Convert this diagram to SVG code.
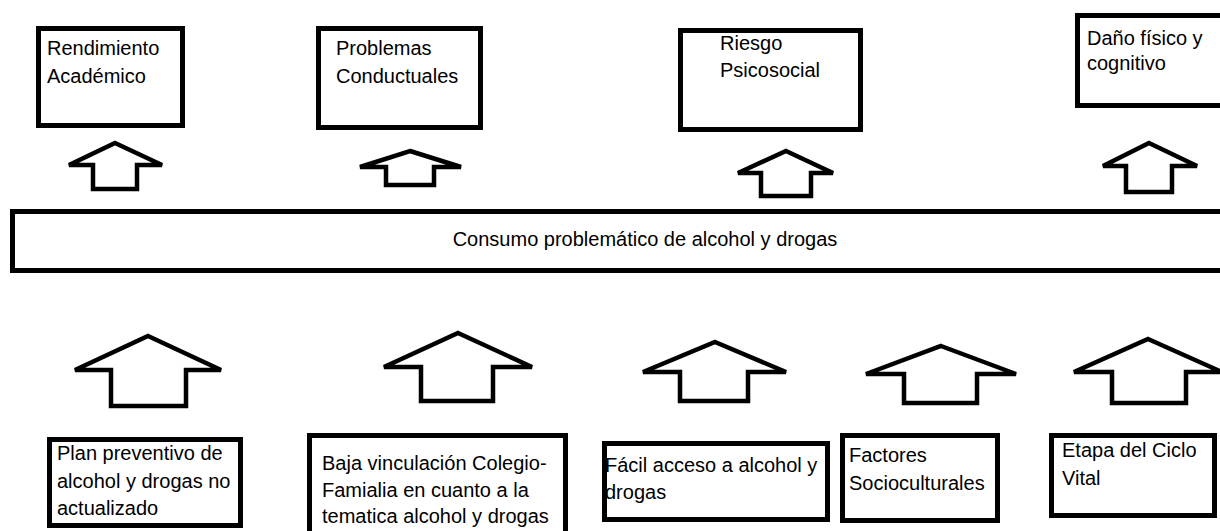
<svg xmlns="http://www.w3.org/2000/svg" width="1220" height="531" viewBox="0 0 1220 531">
<style>
.box{fill:#fff;stroke:#000;stroke-width:5}
.arr{fill:#fff;stroke:#000;stroke-width:4.5;stroke-linejoin:miter}
text{font-family:"Liberation Sans",Arial,sans-serif;font-size:20px;fill:#000}
</style>
<rect width="1220" height="531" fill="#fff"/>
<g id="top-rendimiento"><rect class="box" x="38.5" y="28.5" width="144" height="97"/><text x="47" y="55">Rendimiento</text><text x="47" y="83">Académico</text></g>
<g id="top-problemas"><rect class="box" x="318.5" y="28.5" width="162" height="99"/><text x="336" y="55">Problemas</text><text x="336" y="83">Conductuales</text></g>
<g id="top-riesgo"><rect class="box" x="680.5" y="30.5" width="180" height="99"/><text x="720" y="50">Riesgo</text><text x="720" y="77">Psicosocial</text></g>
<g id="top-dano"><rect class="box" x="1077.5" y="15.5" width="150" height="90"/><text x="1087" y="45">Daño físico y</text><text x="1087" y="70">cognitivo</text></g>
<g id="center"><rect class="box" x="12.5" y="211.5" width="1215" height="59"/><text x="645" y="246" text-anchor="middle">Consumo problemático de alcohol y drogas</text></g>
<g id="connectors">
<polygon class="arr" points="115,143 162,165 137,165 137,189 93,189 93,165 69,165"/>
<polygon class="arr" points="410,151 461,167 434,167 434,185 386,185 386,167 360,167"/>
<polygon class="arr" points="786,151 833,173 811,173 811,196 761,196 761,173 738,173"/>
<polygon class="arr" points="1149,143 1197,166 1172,166 1172,192 1126,192 1126,166 1103,166"/>
<polygon class="arr" points="148,336 221,370 186,370 186,406 111,406 111,370 75,370"/>
<polygon class="arr" points="458,333 532,367 493,367 493,401 421,401 421,367 384,367"/>
<polygon class="arr" points="715,342 786,372 748,372 748,401 680,401 680,372 643,372"/>
<polygon class="arr" points="941,346 1016,374 977,374 977,403 904,403 904,374 866,374"/>
<polygon class="arr" points="1148,339 1222,372 1186,372 1186,403 1112,403 1112,372 1074,372"/>
</g>
<g id="bottom-plan"><rect class="box" x="49.5" y="439.5" width="191" height="86"/><text x="57" y="460">Plan preventivo de</text><text x="57" y="488">alcohol y drogas no</text><text x="57" y="515">actualizado</text></g>
<g id="bottom-baja"><rect class="box" x="309.5" y="435.5" width="256" height="100"/><text x="322" y="470">Baja vinculación Colegio-</text><text x="322" y="497">Famialia en cuanto a la</text><text x="322" y="523">tematica alcohol y drogas</text></g>
<g id="bottom-facil"><rect class="box" x="604.5" y="443.5" width="223" height="76"/><text x="605" y="472">Fácil acceso a alcohol y</text><text x="605" y="499">drogas</text></g>
<g id="bottom-factores"><rect class="box" x="842.5" y="435.5" width="155" height="85"/><text x="849" y="462">Factores</text><text x="849" y="490">Socioculturales</text></g>
<g id="bottom-etapa"><rect class="box" x="1051.5" y="435.5" width="163" height="80"/><text x="1062" y="457">Etapa del Ciclo</text><text x="1062" y="485">Vital</text></g>
</svg>
